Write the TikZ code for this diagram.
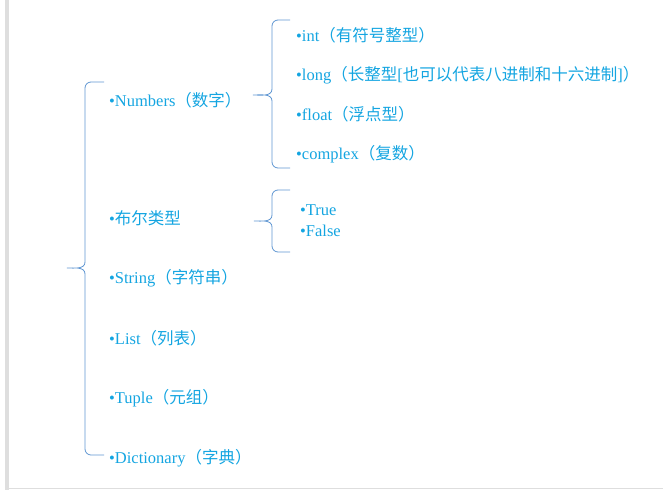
\documentclass[tikz,border=0pt]{standalone}
\usepackage{fontspec}
\setmainfont{Liberation Serif}
\newfontfamily\cjk{Noto Sans CJK SC}
\definecolor{itemblue}{RGB}{20,165,225}
\definecolor{braceblue}{RGB}{95,150,210}
\newcommand{\curlybrace}[6]{%
  \draw[brc] (#3,#4) -- (#2+6,#4) to[out=180,in=90] (#2,#4+6) -- (#2,#5-6)
    to[out=-90,in=0] (#1,#5) to[out=0,in=90] (#2,#5+6) -- (#2,#6-6)
    to[out=-90,in=180] (#2+6,#6) -- (#3,#6);}
\begin{document}
\begin{tikzpicture}[x=1pt,y=-1pt,
    item/.style={anchor=west,inner sep=0pt,text=itemblue,font=\fontsize{16.5}{18}\selectfont},
    brc/.style={draw=braceblue,line width=0.8pt}]
\useasboundingbox (0,0) rectangle (663,490);
\fill[black!13] (5,0) rectangle (9,490);
\draw[black!13,line width=1pt] (9,488) -- (663,488);
% main list
\node[item] (num) at (109,100) {•Numbers{\cjk（数字）}};
\node[item] (bool) at (109,218) {•{\cjk 布尔类型}};
\node[item] (str) at (109,278) {•String{\cjk（字符串）}};
\node[item] (lst) at (109,338) {•List{\cjk（列表）}};
\node[item] (tup) at (109,398) {•Tuple{\cjk（元组）}};
\node[item] (dct) at (109,458) {•Dictionary{\cjk（字典）}};
% numbers
\node[item] (int) at (296,35) {•int{\cjk（有符号整型）}};
\node[item] (lng) at (296,75) {•long{\cjk（长整型}[{\cjk 也可以代表八进制和十六进制}]{\cjk ）}};
\node[item] (flt) at (296,114) {•float{\cjk（浮点型）}};
\node[item] (cpx) at (296,154) {•complex{\cjk（复数）}};
% bool
\node[item] (tru) at (300,210) {•True};
\node[item] (fls) at (300,231) {•False};
% braces
\curlybrace{67}{85}{104}{82}{268}{455}
\curlybrace{253}{272}{290}{20}{95}{168}
\curlybrace{254}{272}{290}{190}{221}{252}
\end{tikzpicture}
\end{document}
